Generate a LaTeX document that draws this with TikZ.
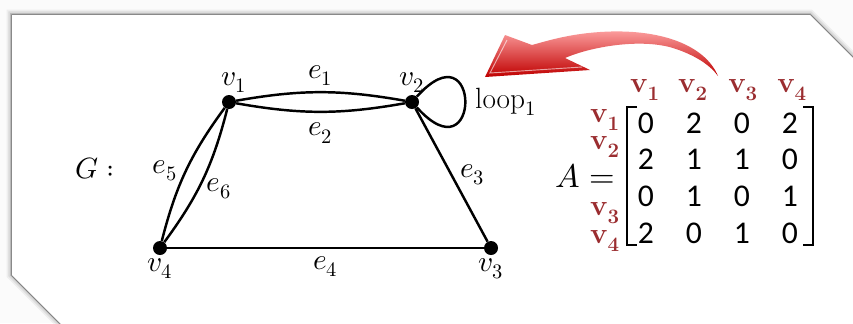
\documentclass[tikz,border=0pt]{standalone}
\usepackage{fontspec}
\usepackage{unicode-math}
\setmathfont{Latin Modern Math}
\newfontfamily\digitfont{Carlito}
\usetikzlibrary{matrix}
\definecolor{vred}{HTML}{9B2D30}
\definecolor{arrowred}{HTML}{E8312F}
\begin{document}
\begin{tikzpicture}[x=0.03cm, y=-0.03cm,
    vertex/.style={circle, fill, inner sep=0pt, minimum size=0.42cm},
    lbl/.style={font=\fontsize{25}{27}\selectfont},
    edge/.style={line width=2.1pt},
    entry/.style={font=\fontsize{27}{30}\selectfont\digitfont, inner sep=0pt,
      minimum width=1.44cm, minimum height=1.1cm},
    vname/.style={text=vred, font=\fontsize{25}{27}\selectfont, inner sep=0pt},
    bracket/.style={line width=1.4pt}]
  \useasboundingbox (0,0) rectangle (853,323);
  % card and its shadow
  \fill[gray!3] (0,0) rectangle (853,323);
  \foreach \w/\o in {9pt/0.05, 6pt/0.08, 3pt/0.15, 1.2pt/0.4}
    \draw[black, opacity=\o, line width=\w] (12,15) -- (810,15) -- (870,75) -- (870,340) -- (77,340) -- (12,275) -- cycle;
  \fill[white] (12,15) -- (810,15) -- (870,75) -- (870,340) -- (77,340) -- (12,275) -- cycle;

  % the graph
  \node[vertex, label={[lbl, label distance=-2pt, xshift=4pt]above:$v_1$}] (v1) at (229,102) {};
  \node[vertex, label={[lbl, label distance=-2pt]above:$v_2$}] (v2) at (412,102) {};
  \node[vertex, label={[lbl, label distance=-1pt]below:$v_3$}] (v3) at (491,248) {};
  \node[vertex, label={[lbl, label distance=-1pt]below:$v_4$}] (v4) at (160,248) {};
  \node[lbl] (G) at (95,168) {$G:$};

  \draw[edge] (v1) to[bend left=10] node[lbl, above=1pt] {$e_1$} (v2);
  \draw[edge] (v1) to[bend right=10] node[lbl, below=5pt] {$e_2$} (v2);
  \draw[edge] (v2) -- node[lbl, right=3pt] {$e_3$} (v3);
  \draw[edge] (v4) -- node[lbl, below=3pt] {$e_4$} (v3);
  \draw[edge] (v1) to[bend right=11] node[lbl, left=3pt] {$e_5$} (v4);
  \draw[edge] (v1) to[bend left=11] node[lbl, right=3pt, pos=0.58] {$e_6$} (v4);
  \draw[edge] (v2) to[out=48, in=-48, min distance=2.9cm] node[lbl, right=4pt] {loop$_1$} (v2);

  % red arrow
  \shade[top color=red!35!white, middle color=arrowred, bottom color=red!75!black]
    (718,76) .. controls (705,45) and (660,28) .. (600,32)
    .. controls (570,34) and (550,40) .. (532,45) -- (505,35) -- (485,77)
    -- (590,70) -- (565,58) .. controls (590,47) and (640,38) .. (673,48)
    .. controls (695,55) and (710,65) .. (718,76) -- cycle;
  \draw[white, opacity=0.6, line width=0.8pt] (507,40) -- (490,73) -- (582,67);

  % adjacency matrix
  \node[font=\fontsize{28}{30}\selectfont, inner sep=0pt] (A) at (585,176) {$A=$};
  \matrix (adj) [matrix of nodes, nodes=entry, row sep=0pt, column sep=0pt] at (718,178) {
    0 & 2 & 0 & 2 \\
    2 & 1 & 1 & 0 \\
    0 & 1 & 0 & 1 \\
    2 & 0 & 1 & 0 \\
  };
  \draw[bracket] (637,107) -- (627,107) -- (627,245) -- (637,245);
  \draw[bracket] (803,107) -- (813,107) -- (813,245) -- (803,245);
  \foreach \c/\x in {1/645, 2/693, 3/743, 4/792}
    \node[vname] (h\c) at (\x,90) {$\mathbf{v}_{\mathbf{\c}}$};
  \foreach \r/\y in {1/120, 2/147, 3/213, 4/241}
    \node[vname] (r\r) at (605,\y) {$\mathbf{v}_{\mathbf{\r}}$};
\end{tikzpicture}
\end{document}
